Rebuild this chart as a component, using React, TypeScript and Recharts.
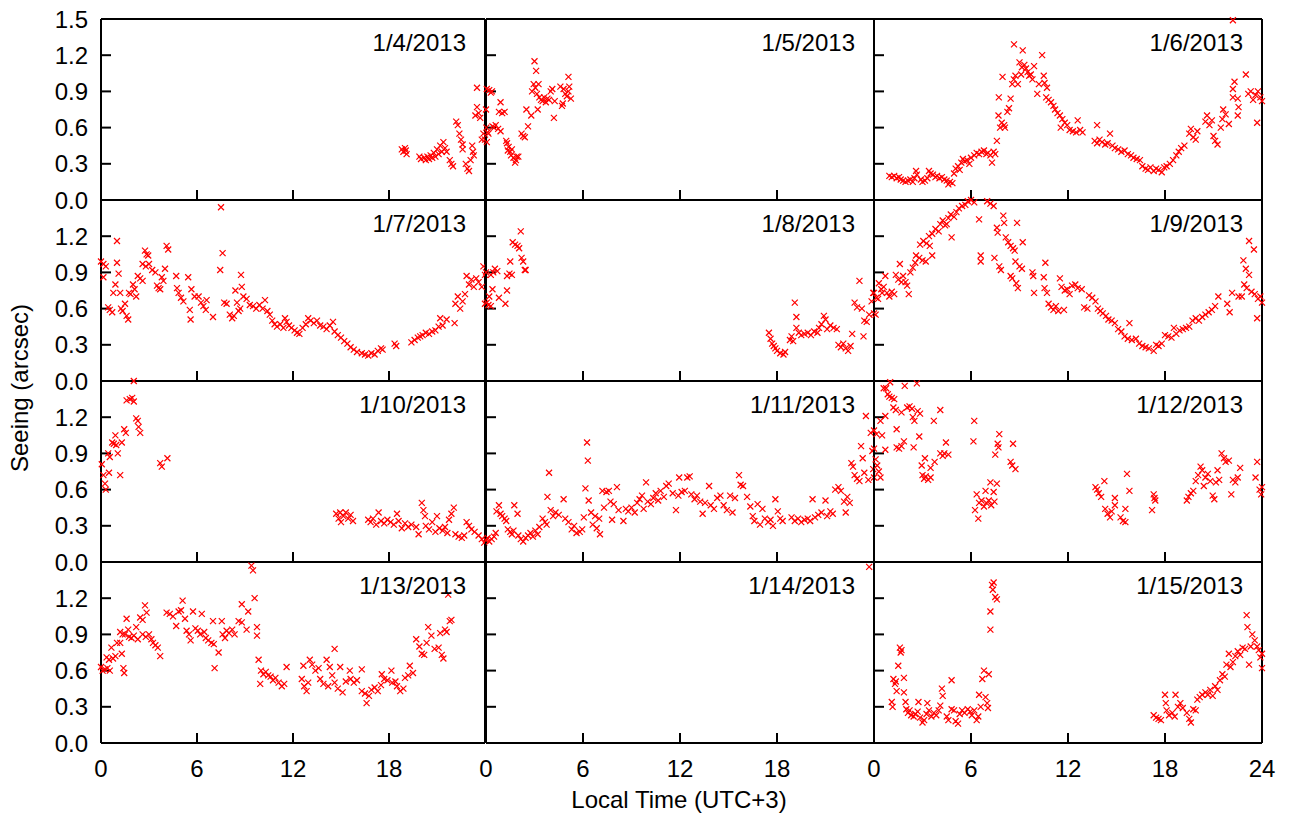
import React from 'react';
import { ScatterChart, Scatter, XAxis, YAxis } from 'recharts';

type Pt = [number, number];

// one night per panel: [local time (h), seeing (arcsec)]
const dates = [
  '1/4/2013', '1/5/2013', '1/6/2013',
  '1/7/2013', '1/8/2013', '1/9/2013',
  '1/10/2013', '1/11/2013', '1/12/2013',
  '1/13/2013', '1/14/2013', '1/15/2013',
];

const d0104: Pt[] = [
  [18.8, 0.42], [18.9, 0.4], [19.0, 0.43], [19.1, 0.38], [19.05, 0.41],
  [19.9, 0.36], [20.0, 0.34], [20.2, 0.35], [20.3, 0.33], [20.4, 0.36], [20.5, 0.34], [20.6, 0.37], [20.7, 0.35], [20.8, 0.39], [20.9, 0.36],
  [21.0, 0.42], [21.1, 0.38], [21.2, 0.45], [21.3, 0.4], [21.4, 0.48], [21.5, 0.43], [21.6, 0.4],
  [21.8, 0.33], [21.9, 0.3], [22.0, 0.28],
  [22.2, 0.65], [22.3, 0.62], [22.4, 0.55], [22.5, 0.5], [22.6, 0.46], [22.6, 0.42],
  [22.8, 0.3], [22.9, 0.26], [23.0, 0.24], [23.1, 0.33],
  [23.2, 0.45], [23.25, 0.4], [23.3, 0.37],
  [23.4, 0.7], [23.5, 0.77], [23.6, 0.72], [23.7, 0.68], [23.5, 0.93],
  [23.8, 0.5], [23.9, 0.55], [24.0, 0.5],
];

const d0105: Pt[] = [
  [0.05, 0.92], [0.2, 0.91], [0.3, 0.89], [0.37, 0.9], [0.0, 0.75], [0.02, 0.6], [0.1, 0.56], [0.15, 0.55], [0.05, 0.48],
  [0.4, 0.61], [0.5, 0.6], [0.6, 0.62], [0.75, 0.59], [0.9, 0.81], [0.8, 0.73], [1.0, 0.72], [1.15, 0.73], [0.9, 0.57],
  [1.25, 0.49], [1.3, 0.47], [1.35, 0.41], [1.4, 0.44], [1.5, 0.4], [1.55, 0.37], [1.6, 0.42], [1.7, 0.35], [1.8, 0.31], [1.85, 0.33], [1.9, 0.36], [2.0, 0.36],
  [2.2, 0.55], [2.3, 0.53], [2.4, 0.52], [2.5, 0.75], [2.6, 0.61], [2.8, 0.7],
  [2.85, 0.9], [2.95, 0.96], [3.05, 0.93], [3.15, 0.88], [3.25, 0.96], [3.0, 1.15], [3.1, 1.07],
  [3.2, 0.75], [3.3, 0.85], [3.4, 0.83], [3.5, 0.82], [3.6, 0.85], [3.7, 0.81], [3.8, 0.84], [3.9, 0.83],
  [4.0, 0.9], [4.1, 0.92], [4.2, 0.68], [4.25, 0.82], [4.6, 0.94], [4.7, 0.78], [4.75, 0.8], [4.8, 0.92], [4.9, 0.88],
  [5.0, 0.86], [5.1, 0.9], [5.15, 0.94], [5.1, 1.02], [5.25, 0.84],
];

const d0106: Pt[] = [
  [0.95, 0.2], [1.1, 0.19], [1.25, 0.2], [1.4, 0.18], [1.55, 0.19], [1.65, 0.17], [1.8, 0.16], [1.95, 0.15], [2.1, 0.16], [2.25, 0.17],
  [2.4, 0.15], [2.5, 0.18], [2.6, 0.24], [2.65, 0.21], [2.9, 0.17], [3.0, 0.15], [3.15, 0.16], [3.3, 0.18], [3.4, 0.24], [3.5, 0.22],
  [3.65, 0.21], [3.8, 0.19], [3.9, 0.2], [4.05, 0.18], [4.2, 0.19], [4.35, 0.17], [4.5, 0.16], [4.6, 0.13], [4.7, 0.15], [4.85, 0.14],
  [4.95, 0.22], [5.05, 0.26], [5.2, 0.28], [5.3, 0.25], [5.4, 0.31], [5.5, 0.34], [5.6, 0.32], [5.75, 0.33], [5.9, 0.3], [6.0, 0.35],
  [6.2, 0.37], [6.35, 0.39], [6.5, 0.38], [6.65, 0.4], [6.8, 0.41], [6.95, 0.38], [7.05, 0.39], [7.2, 0.37], [7.3, 0.31], [7.4, 0.4],
  [7.5, 0.38], [7.6, 0.49], [7.7, 0.7], [7.72, 0.85], [7.8, 0.6], [7.9, 0.64], [7.95, 1.02], [8.05, 0.62], [8.1, 0.6], [8.25, 0.73],
  [8.35, 0.76], [8.45, 0.84], [8.55, 0.96], [8.65, 1.0], [8.66, 1.29], [8.75, 1.03], [8.9, 0.96], [9.0, 1.14], [9.1, 1.04], [9.2, 1.24],
  [9.15, 1.1], [9.3, 1.12], [9.4, 1.09], [9.5, 1.06], [9.6, 1.03], [9.7, 1.04], [9.8, 1.0], [9.9, 1.11], [10.1, 0.88], [10.2, 0.96],
  [10.4, 1.2], [10.5, 1.03], [10.55, 0.97], [10.7, 0.93], [10.65, 0.85], [10.8, 0.83], [10.95, 0.81], [11.1, 0.78], [11.2, 0.75], [11.35, 0.72],
  [11.5, 0.7], [11.55, 0.6], [11.65, 0.67], [11.8, 0.64], [11.95, 0.62], [12.1, 0.58], [12.3, 0.57], [12.5, 0.56], [12.6, 0.66], [12.75, 0.58],
  [12.9, 0.56], [13.8, 0.62], [13.65, 0.49], [13.8, 0.47], [13.95, 0.5], [14.1, 0.48], [14.3, 0.46], [14.45, 0.47], [14.6, 0.55], [14.75, 0.45],
  [14.9, 0.43], [15.1, 0.42], [15.3, 0.4], [15.5, 0.41], [15.7, 0.38], [15.9, 0.37], [16.05, 0.35], [16.25, 0.34], [16.45, 0.33], [16.6, 0.28],
  [16.8, 0.26], [16.95, 0.25], [17.1, 0.27], [17.3, 0.24], [17.45, 0.26], [17.6, 0.25], [17.8, 0.23], [17.95, 0.27], [18.1, 0.28], [18.3, 0.3],
  [18.5, 0.33], [18.7, 0.37], [18.85, 0.4], [19.0, 0.43], [19.2, 0.45], [19.5, 0.55], [19.6, 0.59], [19.75, 0.52], [19.9, 0.5], [20.0, 0.57],
  [20.5, 0.65], [20.6, 0.7], [20.75, 0.62], [20.9, 0.66], [21.0, 0.53], [21.1, 0.49], [21.25, 0.46], [21.45, 0.6], [21.55, 0.67], [21.6, 0.75],
  [21.75, 0.71], [21.95, 0.63], [22.2, 0.92], [22.3, 0.98], [22.2, 0.85], [22.5, 0.84], [22.55, 0.77], [22.5, 0.7], [22.2, 1.49], [23.0, 1.04],
  [23.15, 0.88], [23.3, 0.9], [23.45, 0.83], [23.6, 0.87], [23.7, 0.64], [23.75, 0.9], [23.9, 0.85], [24.0, 0.82],
];

const d0107: Pt[] = [
  [0.0, 0.99], [0.15, 0.97], [0.3, 0.95], [0.15, 0.86], [0.45, 0.61], [0.55, 0.59], [0.7, 0.57], [0.77, 0.73], [0.9, 0.8], [1.0, 1.16],
  [1.0, 0.98], [1.1, 0.89], [1.2, 0.73], [1.25, 0.6], [1.35, 0.58], [1.5, 0.64], [1.6, 0.54], [1.7, 0.51], [1.75, 0.73], [1.85, 0.72],
  [2.0, 0.8], [2.1, 0.76], [2.2, 0.7], [2.3, 0.87], [2.45, 0.85], [2.6, 0.83], [2.75, 1.08], [2.85, 1.05], [2.95, 1.04], [2.6, 0.97],
  [2.8, 0.95], [3.0, 0.97], [3.2, 0.92], [3.4, 0.9], [3.5, 0.79], [3.6, 0.77], [3.7, 0.76], [3.8, 0.86], [3.9, 0.83], [4.1, 1.12],
  [4.2, 1.09], [4.0, 0.93], [4.7, 0.87], [4.75, 0.77], [4.85, 0.73], [5.0, 0.69], [5.15, 0.66], [5.45, 0.86], [5.55, 0.59], [5.6, 0.51],
  [5.65, 0.76], [5.85, 0.7], [6.1, 0.7], [6.25, 0.65], [6.4, 0.62], [6.55, 0.59], [6.6, 0.67], [7.0, 0.53], [7.5, 1.44], [7.45, 0.92],
  [7.6, 1.06], [7.7, 0.65], [7.85, 0.64], [8.05, 0.55], [8.2, 0.52], [8.3, 0.54], [8.4, 0.75], [8.5, 0.65], [8.6, 0.58], [8.7, 0.6],
  [8.75, 0.88], [8.8, 0.78], [8.9, 0.7], [9.1, 0.68], [9.3, 0.63], [9.5, 0.62], [9.7, 0.6], [9.9, 0.63], [10.1, 0.6], [10.25, 0.67],
  [10.4, 0.58], [10.55, 0.55], [10.7, 0.5], [10.85, 0.47], [11.0, 0.45], [11.2, 0.47], [11.4, 0.44], [11.5, 0.52], [11.6, 0.49], [11.75, 0.46],
  [11.9, 0.44], [12.1, 0.42], [12.25, 0.4], [12.4, 0.39], [12.6, 0.44], [12.8, 0.47], [12.95, 0.52], [13.1, 0.5], [13.3, 0.48], [13.5, 0.5],
  [13.7, 0.46], [13.9, 0.45], [14.1, 0.43], [14.3, 0.46], [14.5, 0.49], [14.6, 0.41], [14.8, 0.38], [15.0, 0.36], [15.2, 0.33], [15.4, 0.31],
  [15.6, 0.28], [15.8, 0.26], [16.0, 0.24], [16.3, 0.23], [16.5, 0.22], [16.7, 0.21], [16.9, 0.23], [17.1, 0.22], [17.3, 0.25], [17.5, 0.27],
  [17.6, 0.26], [18.35, 0.31], [18.45, 0.29], [19.4, 0.32], [19.6, 0.34], [19.8, 0.36], [19.95, 0.37], [20.1, 0.38], [20.3, 0.4], [20.5, 0.39],
  [20.7, 0.41], [20.9, 0.42], [21.1, 0.45], [21.2, 0.52], [21.35, 0.46], [21.6, 0.51], [22.1, 0.48], [22.15, 0.64], [22.3, 0.7], [22.45, 0.6],
  [22.6, 0.66], [22.75, 0.72], [22.85, 0.87], [23.0, 0.8], [23.15, 0.84], [23.3, 0.78], [23.45, 0.85], [23.6, 0.82], [23.8, 0.78], [23.9, 0.95],
  [24.0, 0.64], [24.0, 0.88],
];

const d0108: Pt[] = [
  [0.0, 0.9], [0.05, 0.65], [0.15, 0.63], [0.2, 0.7], [0.3, 0.62], [0.3, 0.88], [0.4, 0.76], [0.45, 0.9], [0.55, 0.93], [0.7, 0.91],
  [0.8, 0.69], [1.2, 0.64], [1.3, 0.75], [1.3, 0.87], [1.45, 0.89], [1.5, 0.99], [1.6, 0.88], [1.65, 1.15], [1.8, 1.13], [1.95, 1.12],
  [2.05, 1.1], [2.15, 1.24], [2.2, 1.02], [2.3, 0.99], [2.4, 0.92], [2.45, 0.92],
  [17.5, 0.4], [17.6, 0.35], [17.7, 0.31], [17.8, 0.29], [17.9, 0.27], [18.0, 0.25], [18.2, 0.23], [18.4, 0.22], [18.5, 0.24], [18.8, 0.34],
  [18.9, 0.37], [19.0, 0.33], [19.1, 0.65], [19.2, 0.53], [19.2, 0.44], [19.35, 0.4], [19.5, 0.38], [19.7, 0.39], [19.9, 0.4], [20.1, 0.38],
  [20.3, 0.41], [20.5, 0.4], [20.6, 0.44], [20.75, 0.47], [20.9, 0.54], [21.0, 0.51], [21.1, 0.43], [21.3, 0.46], [21.5, 0.44], [21.7, 0.43],
  [21.8, 0.3], [21.95, 0.28], [22.1, 0.31], [22.25, 0.27], [22.4, 0.25], [22.55, 0.29], [22.65, 0.39], [22.8, 0.65], [22.95, 0.61], [23.1, 0.83],
  [23.25, 0.6], [23.35, 0.37], [23.4, 0.5], [23.55, 0.49], [23.7, 0.55], [23.85, 0.66], [23.95, 0.73], [24.0, 0.56],
];

const d0109: Pt[] = [
  [0.0, 0.73], [0.1, 0.55], [0.15, 0.69], [0.25, 0.68], [0.3, 0.81], [0.45, 0.76], [0.6, 0.78], [0.5, 0.73], [0.7, 0.87], [0.8, 0.73],
  [0.95, 0.7], [1.1, 0.74], [1.25, 0.72], [1.35, 0.88], [1.5, 0.84], [1.6, 0.97], [1.7, 0.82], [1.8, 0.87], [1.95, 0.82], [2.05, 0.79],
  [2.15, 0.72], [2.25, 0.9], [2.4, 0.94], [2.55, 0.98], [2.6, 1.04], [2.8, 1.02], [3.0, 1.0], [3.2, 0.99], [2.85, 1.13], [3.05, 1.16],
  [3.25, 1.14], [3.45, 1.12], [3.6, 1.04], [3.4, 1.2], [3.6, 1.22], [3.8, 1.26], [4.0, 1.24], [4.1, 1.3], [4.25, 1.33], [4.4, 1.29],
  [4.5, 1.3], [4.6, 1.35], [4.8, 1.19], [4.75, 1.38], [4.95, 1.36], [5.1, 1.4], [5.25, 1.43], [5.45, 1.45], [5.65, 1.46], [5.8, 1.49],
  [6.0, 1.5], [6.2, 1.48], [6.5, 1.34], [6.6, 1.04], [6.6, 0.99], [7.0, 1.49], [7.2, 1.47], [7.4, 1.45], [7.45, 1.02], [7.6, 1.27],
  [7.65, 1.23], [7.75, 0.95], [7.85, 0.92], [8.0, 1.37], [8.05, 1.31], [8.15, 1.19], [8.3, 1.15], [8.45, 1.12], [8.6, 1.1], [8.7, 1.08],
  [8.45, 0.87], [8.55, 0.85], [8.75, 0.99], [8.8, 0.81], [8.9, 0.77], [8.85, 1.31], [9.0, 0.95], [9.15, 0.93], [9.2, 1.15], [9.8, 0.9],
  [9.85, 0.87], [9.9, 0.73], [10.5, 0.86], [10.6, 0.98], [10.55, 0.77], [10.7, 0.73], [10.8, 0.64], [10.95, 0.61], [11.1, 0.59], [11.25, 0.62],
  [11.4, 0.58], [11.5, 0.85], [11.6, 0.78], [11.75, 0.59], [11.8, 0.75], [11.95, 0.76], [12.1, 0.72], [12.25, 0.79], [12.45, 0.8], [12.6, 0.77],
  [12.85, 0.76], [13.0, 0.61], [13.2, 0.6], [13.3, 0.71], [13.5, 0.69], [13.7, 0.66], [13.85, 0.6], [14.0, 0.58], [14.15, 0.56], [14.35, 0.54],
  [14.5, 0.51], [14.7, 0.5], [14.9, 0.48], [15.1, 0.43], [15.3, 0.41], [15.5, 0.37], [15.7, 0.35], [15.8, 0.48], [15.95, 0.34], [16.2, 0.35],
  [16.4, 0.31], [16.6, 0.29], [16.8, 0.28], [17.0, 0.27], [17.3, 0.25], [17.45, 0.3], [17.6, 0.29], [17.8, 0.31], [18.0, 0.38], [18.2, 0.37],
  [18.4, 0.36], [18.55, 0.44], [18.7, 0.39], [18.9, 0.42], [19.1, 0.43], [19.3, 0.44], [19.5, 0.45], [19.7, 0.5], [19.9, 0.52], [20.1, 0.5],
  [20.3, 0.53], [20.5, 0.55], [20.7, 0.57], [20.9, 0.59], [21.1, 0.62], [21.3, 0.7], [21.85, 0.64], [22.0, 0.57], [22.15, 0.73], [22.55, 0.7],
  [22.75, 0.7], [22.85, 1.0], [22.9, 0.8], [23.0, 0.93], [23.05, 0.77], [23.2, 1.16], [23.2, 0.88], [23.35, 0.74], [23.5, 1.09], [23.55, 0.72],
  [23.7, 0.52], [23.75, 0.68], [23.9, 0.7], [24.0, 0.65],
];

const d0110: Pt[] = [
  [0.05, 0.81], [0.15, 0.72], [0.25, 0.65], [0.3, 0.6], [0.45, 0.9], [0.5, 0.74], [0.55, 0.87], [0.7, 0.99], [0.8, 0.98], [0.9, 1.05],
  [0.95, 0.97], [1.05, 0.9], [1.2, 0.72], [1.3, 0.99], [1.45, 1.1], [1.55, 1.07], [1.6, 1.34], [1.8, 1.35], [1.95, 1.36], [2.05, 1.33],
  [2.05, 1.5], [2.2, 1.19], [2.3, 1.17], [2.35, 1.12], [2.45, 1.07], [3.7, 0.82], [3.8, 0.79], [4.15, 0.86],
  [14.7, 0.4], [14.85, 0.36], [14.95, 0.41], [15.0, 0.33], [15.15, 0.38], [15.3, 0.41], [15.45, 0.36], [15.6, 0.39], [15.75, 0.34], [16.7, 0.35],
  [16.85, 0.33], [17.0, 0.36], [17.2, 0.31], [17.35, 0.41], [17.5, 0.34], [17.7, 0.32], [17.9, 0.35], [18.1, 0.33], [18.3, 0.31], [18.5, 0.4],
  [18.6, 0.34], [18.8, 0.28], [19.0, 0.32], [19.2, 0.29], [19.4, 0.31], [19.7, 0.29], [19.85, 0.23], [20.05, 0.49], [20.15, 0.43], [20.25, 0.38],
  [20.3, 0.3], [20.5, 0.27], [20.7, 0.33], [20.9, 0.25], [21.0, 0.38], [21.15, 0.28], [21.35, 0.26], [21.5, 0.29], [21.65, 0.24], [21.75, 0.35],
  [21.9, 0.4], [22.05, 0.45], [22.15, 0.23], [22.35, 0.21], [22.55, 0.2], [22.7, 0.22], [22.85, 0.33], [23.0, 0.3], [23.15, 0.27], [23.35, 0.25],
  [23.6, 0.22], [23.8, 0.19], [23.95, 0.16],
];

const d0111: Pt[] = [
  [0.0, 0.18], [0.1, 0.2], [0.2, 0.17], [0.35, 0.19], [0.5, 0.21], [0.6, 0.24], [0.65, 0.42], [0.8, 0.47], [0.9, 0.4], [1.0, 0.38],
  [1.15, 0.36], [1.25, 0.34], [1.35, 0.27], [1.5, 0.25], [1.6, 0.23], [1.75, 0.47], [1.7, 0.26], [1.95, 0.4], [2.0, 0.22], [2.15, 0.19],
  [2.3, 0.17], [2.45, 0.2], [2.6, 0.22], [2.75, 0.24], [2.9, 0.21], [3.05, 0.26], [3.2, 0.23], [3.3, 0.29], [3.5, 0.36], [3.65, 0.33],
  [3.8, 0.54], [3.9, 0.74], [3.75, 0.31], [4.0, 0.43], [4.15, 0.38], [4.3, 0.41], [4.5, 0.39], [4.8, 0.52], [4.9, 0.36], [5.1, 0.33],
  [5.3, 0.27], [5.45, 0.3], [5.6, 0.24], [5.8, 0.25], [5.95, 0.27], [6.05, 0.37], [6.15, 0.61], [6.25, 0.99], [6.3, 0.84], [6.35, 0.51],
  [6.5, 0.41], [6.6, 0.31], [6.75, 0.38], [6.85, 0.28], [7.0, 0.36], [7.05, 0.23], [7.2, 0.59], [7.3, 0.45], [7.45, 0.58], [7.6, 0.59],
  [7.7, 0.5], [7.8, 0.35], [7.9, 0.48], [8.1, 0.62], [8.2, 0.43], [8.5, 0.34], [8.65, 0.44], [8.8, 0.42], [9.0, 0.45], [9.2, 0.41],
  [9.35, 0.49], [9.5, 0.52], [9.65, 0.55], [9.75, 0.44], [9.9, 0.66], [10.0, 0.5], [10.2, 0.48], [10.35, 0.53], [10.5, 0.57], [10.65, 0.51],
  [10.8, 0.59], [11.0, 0.54], [11.15, 0.63], [11.3, 0.65], [11.55, 0.57], [11.75, 0.43], [11.9, 0.55], [11.95, 0.7], [12.1, 0.58], [12.3, 0.59],
  [12.45, 0.7], [12.6, 0.71], [12.7, 0.56], [12.9, 0.52], [13.05, 0.55], [13.25, 0.5], [13.4, 0.4], [13.55, 0.49], [13.8, 0.63], [13.9, 0.47],
  [14.1, 0.44], [14.3, 0.53], [14.5, 0.55], [14.7, 0.47], [14.9, 0.43], [15.1, 0.55], [15.25, 0.41], [15.4, 0.53], [15.65, 0.72], [15.75, 0.64],
  [15.9, 0.63], [16.15, 0.54], [16.35, 0.46], [16.5, 0.38], [16.6, 0.34], [16.8, 0.48], [16.95, 0.31], [17.1, 0.44], [17.25, 0.36], [17.45, 0.33],
  [17.6, 0.35], [17.75, 0.3], [17.9, 0.52], [18.05, 0.42], [18.2, 0.36], [18.35, 0.34], [18.9, 0.37], [19.1, 0.34], [19.3, 0.36], [19.5, 0.33],
  [19.7, 0.35], [19.9, 0.36], [20.05, 0.34], [20.2, 0.52], [20.35, 0.37], [20.55, 0.39], [20.75, 0.41], [21.0, 0.51], [21.1, 0.38], [21.3, 0.42],
  [21.45, 0.4], [21.6, 0.6], [21.8, 0.62], [21.95, 0.59], [22.15, 0.5], [22.25, 0.41], [22.35, 0.54], [22.5, 0.49], [22.6, 0.82], [22.7, 0.79],
  [22.8, 0.72], [22.95, 0.69], [23.1, 0.67], [23.2, 0.96], [23.3, 0.86], [23.4, 0.74], [23.5, 1.21], [23.65, 0.68], [23.8, 1.07], [23.9, 0.92],
  [23.95, 0.77], [24.0, 0.7],
];

const d0112: Pt[] = [
  [0.0, 1.09], [0.15, 1.06], [0.0, 0.94], [0.1, 0.85], [0.2, 0.8], [0.3, 0.75], [0.4, 0.7], [0.4, 1.17], [0.5, 1.05], [0.6, 1.44],
  [0.75, 1.44], [0.7, 1.21], [0.7, 0.93], [0.85, 1.39], [0.95, 1.37], [1.0, 1.49], [1.1, 1.36], [1.25, 1.35], [1.2, 1.28], [1.35, 1.26],
  [1.4, 1.1], [1.4, 0.95], [1.55, 0.94], [1.7, 0.96], [1.7, 1.24], [1.9, 1.46], [1.85, 1.0], [2.05, 1.28], [2.2, 1.29], [2.35, 1.27],
  [2.4, 1.2], [2.5, 1.17], [2.45, 0.95], [2.65, 1.48], [2.7, 1.25], [2.85, 1.23], [2.8, 1.04], [2.95, 0.8], [3.0, 0.72], [3.1, 0.69],
  [3.2, 0.71], [3.35, 0.68], [3.5, 0.7], [3.15, 0.86], [3.5, 0.78], [3.7, 1.17], [3.75, 0.83], [4.1, 1.26], [4.1, 0.9], [4.25, 0.88],
  [4.35, 0.9], [4.45, 0.99], [4.6, 0.89],
  [6.15, 1.0], [6.2, 1.17], [6.25, 0.43], [6.35, 0.56], [6.45, 0.36], [6.5, 0.49], [6.65, 0.51], [6.8, 0.46], [6.9, 0.59], [6.95, 0.49],
  [7.1, 0.51], [7.2, 0.66], [7.25, 0.47], [7.4, 0.58], [7.5, 0.89], [7.45, 0.5], [7.6, 0.65], [7.65, 0.98], [7.7, 0.95], [7.75, 1.06],
  [8.45, 0.83], [8.55, 0.8], [8.6, 0.98], [8.75, 0.77],
  [13.7, 0.62], [13.8, 0.6], [13.9, 0.57], [14.05, 0.54], [14.25, 0.67], [14.3, 0.44], [14.45, 0.4], [14.6, 0.37], [14.7, 0.42], [14.9, 0.53],
  [14.9, 0.47], [15.25, 0.37], [15.4, 0.34], [15.55, 0.33], [15.55, 0.44], [15.65, 0.73], [15.8, 0.59], [17.2, 0.43], [17.3, 0.56], [17.35, 0.53],
  [17.4, 0.51],
  [19.35, 0.51], [19.45, 0.54], [19.6, 0.57], [19.75, 0.59], [19.9, 0.67], [20.05, 0.72], [20.2, 0.79], [20.3, 0.76], [20.4, 0.63], [20.5, 0.7],
  [20.65, 0.73], [20.8, 0.67], [20.95, 0.55], [21.05, 0.52], [21.15, 0.66], [21.25, 0.76], [21.35, 0.68], [21.5, 0.9], [21.65, 0.86], [21.75, 0.83],
  [21.95, 0.84], [22.1, 0.56], [22.2, 0.68], [22.35, 0.66], [22.5, 0.7], [22.65, 0.78], [23.6, 0.7], [23.7, 0.83], [23.85, 0.6], [23.95, 0.56],
  [24.0, 0.62],
];

const d0113: Pt[] = [
  [0.0, 0.63], [0.1, 0.6], [0.25, 0.61], [0.4, 0.62], [0.55, 0.6], [0.35, 0.71], [0.5, 0.69], [0.65, 0.79], [0.75, 0.7], [0.9, 0.72],
  [1.0, 0.83], [1.2, 0.83], [1.2, 0.92], [1.35, 0.9], [1.3, 0.74], [1.4, 0.62], [1.45, 0.58], [1.5, 0.9], [1.6, 1.03], [1.7, 0.94],
  [1.75, 0.88], [1.9, 0.87], [2.05, 0.89], [2.2, 0.96], [2.3, 0.86], [2.45, 1.04], [2.6, 1.02], [2.75, 1.14], [2.85, 1.08], [2.6, 0.9],
  [2.8, 0.88], [3.0, 0.9], [3.15, 0.86], [3.25, 0.83], [3.4, 0.81], [3.55, 0.79], [3.7, 0.72], [4.1, 1.08], [4.3, 1.07], [4.5, 1.05],
  [4.7, 0.97], [4.85, 1.09], [5.0, 1.1], [5.1, 1.18], [5.25, 1.03], [5.35, 0.93], [5.5, 0.9], [5.6, 0.85], [5.75, 1.09], [5.9, 0.95],
  [6.05, 0.93], [6.2, 0.9], [6.3, 1.07], [6.45, 0.92], [6.55, 0.87], [6.7, 0.85], [6.9, 0.83], [7.0, 1.01], [7.05, 0.82], [7.1, 0.62],
  [7.35, 0.75], [7.55, 1.01], [7.6, 0.9], [7.75, 0.87], [7.85, 0.93], [8.0, 0.91], [8.2, 0.94], [8.35, 0.9], [8.6, 1.01], [8.8, 1.15],
  [8.8, 1.0], [9.1, 0.94], [9.2, 1.09], [9.4, 1.47], [9.5, 1.43], [9.6, 1.2], [9.75, 0.96], [9.75, 0.89], [9.85, 0.69], [9.95, 0.49],
  [10.0, 0.6], [10.15, 0.57], [10.3, 0.59], [10.45, 0.56], [10.6, 0.55], [10.75, 0.52], [10.9, 0.54], [11.1, 0.5], [11.3, 0.47], [11.45, 0.49],
  [11.6, 0.63], [12.55, 0.53], [12.65, 0.64], [12.7, 0.47], [12.85, 0.43], [12.95, 0.5], [13.05, 0.69], [13.2, 0.65], [13.4, 0.6], [13.6, 0.62],
  [13.7, 0.53], [13.9, 0.49], [14.1, 0.69], [14.2, 0.47], [14.3, 0.63], [14.45, 0.56], [14.6, 0.78], [14.6, 0.5], [14.8, 0.45], [14.95, 0.63],
  [15.1, 0.42], [15.3, 0.51], [15.55, 0.6], [15.6, 0.53], [15.8, 0.5], [16.0, 0.52], [16.3, 0.61], [16.3, 0.43], [16.5, 0.41], [16.6, 0.33],
  [16.75, 0.39], [16.9, 0.44], [17.1, 0.46], [17.3, 0.43], [17.55, 0.57], [17.5, 0.48], [17.7, 0.53], [17.9, 0.52], [18.15, 0.6], [18.2, 0.5],
  [18.4, 0.51], [18.5, 0.47], [18.7, 0.43], [18.9, 0.45], [19.0, 0.54], [19.2, 0.56], [19.3, 0.64], [19.5, 0.58], [19.7, 0.86], [19.9, 0.8],
  [20.05, 0.74], [20.2, 0.73], [20.35, 0.83], [20.45, 0.96], [20.65, 0.89], [20.85, 0.78], [21.1, 0.79], [21.2, 0.91], [21.3, 0.73], [21.4, 0.7],
  [21.5, 0.94], [21.6, 0.92], [21.7, 1.23], [21.8, 1.01], [21.9, 1.02],
];

const d0114: Pt[] = [[23.7, 1.46]];

const d0115: Pt[] = [
  [1.1, 0.34], [1.15, 0.3], [1.2, 0.53], [1.3, 0.49], [1.35, 0.51], [1.4, 0.43], [1.5, 0.64], [1.6, 0.79], [1.65, 0.75], [1.7, 0.77],
  [1.85, 0.54], [1.85, 0.42], [1.95, 0.34], [2.0, 0.28], [2.1, 0.25], [2.2, 0.27], [2.3, 0.23], [2.45, 0.22], [2.55, 0.24], [2.75, 0.34],
  [2.7, 0.26], [2.85, 0.21], [3.0, 0.17], [3.1, 0.19], [3.3, 0.33], [3.25, 0.24], [3.4, 0.27], [3.55, 0.22], [3.7, 0.25], [3.85, 0.23],
  [4.0, 0.27], [4.1, 0.31], [4.2, 0.45], [4.25, 0.39], [4.5, 0.22], [4.6, 0.19], [4.8, 0.52], [4.8, 0.28], [4.95, 0.27], [5.05, 0.18],
  [5.2, 0.16], [5.3, 0.24], [5.45, 0.27], [5.6, 0.25], [5.8, 0.28], [5.95, 0.26], [6.05, 0.23], [6.2, 0.27], [6.35, 0.19], [6.45, 0.22],
  [6.5, 0.4], [6.6, 0.3], [6.7, 0.53], [6.8, 0.6], [6.9, 0.38], [7.0, 0.33], [7.05, 0.29], [7.1, 0.57], [7.2, 0.94], [7.2, 1.09],
  [7.3, 1.31], [7.35, 1.27], [7.4, 1.33], [7.5, 1.21], [7.6, 1.19],
  [17.3, 0.23], [17.45, 0.21], [17.6, 0.2], [17.75, 0.19], [18.0, 0.4], [18.05, 0.33], [18.1, 0.27], [18.25, 0.23], [18.45, 0.25], [18.6, 0.22],
  [18.65, 0.4], [18.8, 0.3], [18.95, 0.33], [19.1, 0.29], [19.35, 0.25], [19.5, 0.2], [19.6, 0.17], [19.75, 0.28], [19.9, 0.27], [20.0, 0.36],
  [20.15, 0.38], [20.3, 0.4], [20.5, 0.42], [20.65, 0.4], [20.8, 0.44], [20.95, 0.39], [21.1, 0.47], [21.25, 0.44], [21.4, 0.52], [21.55, 0.57],
  [21.7, 0.55], [21.8, 0.65], [21.95, 0.74], [22.05, 0.63], [22.2, 0.67], [22.35, 0.72], [22.5, 0.76], [22.65, 0.73], [22.8, 0.79], [22.95, 0.78],
  [23.05, 1.06], [23.1, 0.96], [23.2, 0.65], [23.3, 0.8], [23.4, 0.9], [23.55, 0.85], [23.7, 0.8], [23.8, 0.77], [23.9, 0.71], [24.0, 0.74],
  [24.0, 0.62],
];

const nights: Pt[][] = [d0104, d0105, d0106, d0107, d0108, d0109, d0110, d0111, d0112, d0113, d0114, d0115];

const xTicks = [0, 6, 12, 18, 24];
const yTicks = [0, 0.3, 0.6, 0.9, 1.2, 1.5];

// panel geometry (page pixels)
const colLeft = [101, 486, 874];
const colWidth = [384, 388, 388];
const rowTop = [19, 200, 381, 562];
const rowHeight = [181, 181, 181, 181];
const PAD = 60;

const FONT = "'Liberation Sans', Arial, Helvetica, sans-serif";
const lineStyle = { stroke: '#000', strokeWidth: 2 };
const tickStyle = { fontSize: 24, fill: '#000', fontFamily: FONT };

const Cross = (props: any) => {
  const { cx, cy } = props;
  if (cx == null || cy == null) return null;
  const r = 3;
  return (
    <path
      d={`M${cx - r},${cy - r}L${cx + r},${cy + r}M${cx - r},${cy + r}L${cx + r},${cy - r}`}
      stroke="#ff0000"
      strokeWidth={1.2}
      fill="none"
    />
  );
};

function Night({ idx }: { idx: number }) {
  const row = Math.floor(idx / 3);
  const col = idx % 3;
  const w = colWidth[col];
  const h = rowHeight[row];
  const data = nights[idx].map(([t, s]) => ({ t, s }));
  const yFmt = (v: number) => (col === 0 && (row === 0 || v < 1.4) ? v.toFixed(1) : '');
  const xFmt = (v: number) => (row === 3 && (col === 2 || v < 23) ? String(v) : '');
  const blank = () => '';
  const m = PAD - 1;

  return (
    <div style={{ position: 'absolute', left: colLeft[col] - PAD, top: rowTop[row] - PAD }}>
      <ScatterChart width={w + 2 * PAD} height={h + 2 * PAD} margin={{ top: m, right: m, bottom: m, left: m }}>
        <XAxis xAxisId="b" type="number" dataKey="t" domain={[0, 24]} ticks={xTicks} interval={0}
          orientation="bottom" height={1} tickSize={-10} tickMargin={27} tickFormatter={xFmt}
          axisLine={lineStyle} tickLine={lineStyle} tick={tickStyle} />
        <XAxis xAxisId="t" type="number" domain={[0, 24]} ticks={xTicks} interval={0}
          orientation="top" height={1} tickSize={-10} tickFormatter={blank}
          axisLine={lineStyle} tickLine={lineStyle} tick={tickStyle} />
        <YAxis yAxisId="l" type="number" dataKey="s" domain={[0, 1.5]} ticks={yTicks} interval={0}
          orientation="left" width={1} tickSize={-10} tickMargin={23} tickFormatter={yFmt}
          axisLine={lineStyle} tickLine={lineStyle} tick={tickStyle} />
        <YAxis yAxisId="r" type="number" domain={[0, 1.5]} ticks={yTicks} interval={0}
          orientation="right" width={1} tickSize={-10} tickFormatter={blank}
          axisLine={lineStyle} tickLine={lineStyle} tick={tickStyle} />
        <Scatter data={data} xAxisId="b" yAxisId="l" shape={Cross} isAnimationActive={false} />
      </ScatterChart>
      <div style={{
        position: 'absolute', left: PAD, top: PAD + 12, width: w - 19, textAlign: 'right',
        fontFamily: FONT, fontSize: 24, lineHeight: '24px', color: '#000', whiteSpace: 'nowrap',
      }}>
        {dates[idx]}
      </div>
    </div>
  );
}

export default function App() {
  return (
    <div style={{ position: 'fixed', left: 0, top: 0, width: 1294, height: 818, background: '#fff', fontFamily: FONT }}>
      {nights.map((_, i) => <Night key={i} idx={i} />)}
      <div style={{
        position: 'absolute', left: 20, top: 388, transform: 'translate(-50%, -50%) rotate(-90deg)',
        fontSize: 24, lineHeight: '24px', whiteSpace: 'nowrap', color: '#000',
      }}>
        Seeing (arcsec)
      </div>
      <div style={{
        position: 'absolute', left: 679, top: 800, transform: 'translate(-50%, -50%)',
        fontSize: 24, lineHeight: '24px', whiteSpace: 'nowrap', color: '#000',
      }}>
        Local Time (UTC+3)
      </div>
    </div>
  );
}
